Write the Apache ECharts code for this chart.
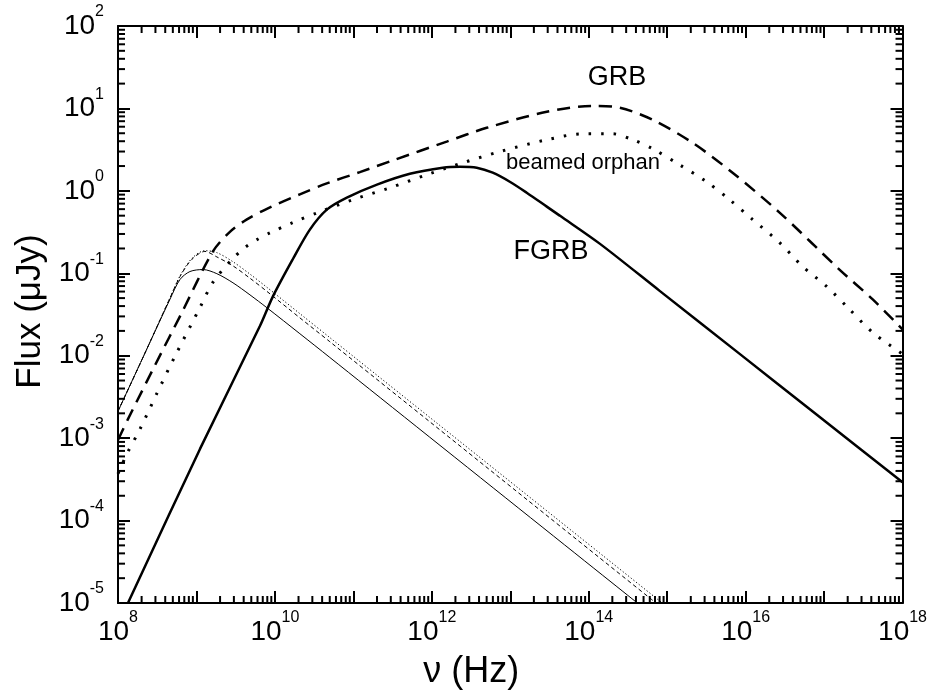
<!DOCTYPE html>
<html><head><meta charset="utf-8">
<script src="https://cdn.jsdelivr.net/npm/echarts@6/dist/echarts.min.js"></script>
<style>html,body{margin:0;padding:0;background:#fff}#c{width:930px;height:696px}</style>
</head><body><div id="c"></div><script>
// ---- data (frequency in Hz, flux in microJy) ----
const fgrbNu   = [1.34e8, 1.11e9, 6.44e9, 9.44e9, 1.69e10, 2.79e10, 4.59e10, 8.26e10, 2.0e11, 5.25e11, 1.38e12, 2.28e12, 3.74e12, 5.98e12, 9.86e12, 1.62e13, 2.92e13, 4.27e13, 1.38e14, 8.02e14, 8.32e15, 7.94e16, 1e18];
const fgrbFlux = [1.0e-5, 7.4e-4, 2.29e-2, 5.25e-2, 0.148, 0.339, 0.592, 0.828, 1.19, 1.61, 1.91, 1.96, 1.91, 1.66, 1.29, 0.95, 0.644, 0.501, 0.229, 0.0612, 1.06e-2, 1.95e-3, 2.92e-4];

const grbNu   = [1e8, 1.34e8, 2.95e8, 6.53e8, 1.62e9, 2.67e9, 4.40e9, 7.91e9, 2.08e10, 4.59e10, 1.21e11, 3.18e11, 1.55e12, 5.01e12, 2.92e13, 1.12e14, 2.48e14, 6.53e14, 2.11e15, 6.82e15, 2.71e16, 1.57e17, 4.17e17, 1e18];
const grbFlux = [9.5e-4, 1.70e-3, 7.6e-3, 3.35e-2, 0.184, 0.318, 0.451, 0.605, 0.908, 1.23, 1.69, 2.34, 3.96, 5.82, 9.1, 10.7, 10.2, 7.28, 3.83, 1.66, 0.545, 0.111, 0.0482, 0.0209];

const orphanNu   = [1e8, 1.30e8, 1.91e8, 3.14e8, 5.32e8, 1.11e9, 1.62e9, 2.83e9, 4.15e9, 5.90e9, 8.63e9, 1.69e10, 3.53e10, 9.86e10, 2.92e11, 8.63e11, 2.48e12, 7.35e12, 2.92e13, 8.39e13, 2.02e14, 3.64e14, 6.53e14, 1.44e15, 3.18e15, 6.25e15, 1.23e16, 2.71e16, 5.32e16, 1.08e17, 2.11e17, 4.15e17, 1e18];
const orphanFlux = [3.7e-4, 6.46e-4, 1.29e-3, 3.51e-3, 9.84e-3, 3.85e-2, 7.76e-2, 0.147, 0.205, 0.256, 0.309, 0.412, 0.545, 0.782, 1.09, 1.57, 2.19, 2.99, 4.17, 4.92, 4.92, 4.17, 3.24, 2.07, 1.29, 0.782, 0.448, 0.236, 0.121, 6.92e-2, 3.65e-2, 1.92e-2, 1.05e-2];

const thinSolidNu   = [1e8, 2.14e8, 4.59e8, 6.17e8, 8.26e8, 1.21e9, 1.82e9, 2.92e9, 4.81e9, 7.91e9, 2.08e10, 5.01e10, 4.17e14];
const thinSolidFlux = [2.12e-3, 1.01e-2, 4.82e-2, 8.41e-2, 0.105, 0.111, 9.89e-2, 7.67e-2, 5.47e-2, 3.82e-2, 1.85e-2, 9.53e-3, 1.0e-5];

const thinDashNu   = [1e8, 2.14e8, 4.59e8, 6.17e8, 8.77e8, 1.28e9, 1.82e9, 2.92e9, 4.81e9, 7.91e9, 2.08e10, 5.01e10, 7.2e14];
const thinDashFlux = [2.12e-3, 1.01e-2, 5.0e-2, 9.12e-2, 0.148, 0.184, 0.158, 0.123, 8.71e-2, 6.03e-2, 2.88e-2, 1.48e-2, 1.0e-5];

const thinDotNu   = [1e8, 2.14e8, 4.59e8, 6.17e8, 8.77e8, 1.28e9, 1.82e9, 2.92e9, 4.81e9, 7.91e9, 2.08e10, 5.01e10, 8.65e14];
const thinDotFlux = [2.12e-3, 1.01e-2, 5.0e-2, 9.3e-2, 0.152, 0.188, 0.178, 0.138, 9.77e-2, 6.76e-2, 3.24e-2, 1.66e-2, 1.0e-5];

const xDecades = [8, 9, 10, 11, 12, 13, 14, 15, 16, 17];   // decades carrying minor ticks
const yDecades = [-5, -4, -3, -2, -1, 0, 1];
const minorMult = [2, 3, 4, 5, 6, 7, 8, 9];
const xMin = 1e8, xMax = 1e18, yMin = 1e-5, yMax = 1e2;

const curveLabels = [
  {text: 'GRB', size: 27},
  {text: 'beamed orphan', size: 22},
  {text: 'FGRB', size: 27}
];

// ---- chart ----
const FONT = '"Liberation Sans", Arial, Helvetica, sans-serif';
const chart = echarts.init(document.getElementById('c'), null, {renderer: 'canvas'});
function zip(a, b) { return a.map((v, i) => [v, b[i]]); }
function expOf(v) { return Math.round(Math.log10(v)); }
const rich = {
  b: {fontSize: 28, lineHeight: 44, fontFamily: FONT, color: '#000'},
  s: {fontSize: 16, lineHeight: 16, verticalAlign: 'top', fontFamily: FONT, color: '#000'}
};
function xLab(v) {
  const e = expOf(v);
  if (Math.abs(Math.log10(v) - e) > 1e-6 || e % 2 !== 0) return '';
  return '{b|10}{s|' + e + '}';
}
function yLab(v) {
  const e = expOf(v);
  if (Math.abs(Math.log10(v) - e) > 1e-6) return '';
  return '{b|10}{s|' + e + '}';
}
const xMinor = [], yMinor = [];
xDecades.forEach(n => minorMult.forEach(k => xMinor.push([k * Math.pow(10, n), yMin])));
yDecades.forEach(n => minorMult.forEach(k => yMinor.push([xMin, k * Math.pow(10, n)])));

const axLine = {lineStyle: {color: '#000', width: 2}};
const axTick = {inside: true, length: 12, lineStyle: {color: '#000', width: 2}};

function lineSeries(nu, fl, width, dash, z) {
  return {
    type: 'line', data: zip(nu, fl), showSymbol: false, smooth: 0.3, z: z,
    xAxisIndex: 0, yAxisIndex: 0, silent: true, animation: false,
    lineStyle: {color: '#000', width: width, type: dash, cap: 'butt'}
  };
}
function tickSeries(data, horizontal) {
  return {
    type: 'custom', data: data, xAxisIndex: 0, yAxisIndex: 0, clip: false, silent: true, z: 5,
    renderItem: function (params, api) {
      const p = api.coord([api.value(0), api.value(1)]);
      const cs = params.coordSys;
      const L = 7, st = {stroke: '#000', lineWidth: 2};
      if (!horizontal) {
        const yb = cs.y + cs.height, yt = cs.y;
        return {type: 'group', children: [
          {type: 'line', shape: {x1: p[0], y1: yb, x2: p[0], y2: yb - L}, style: st},
          {type: 'line', shape: {x1: p[0], y1: yt, x2: p[0], y2: yt + L}, style: st}
        ]};
      }
      const xl = cs.x, xr = cs.x + cs.width;
      return {type: 'group', children: [
        {type: 'line', shape: {x1: xl, y1: p[1], x2: xl + L, y2: p[1]}, style: st},
        {type: 'line', shape: {x1: xr, y1: p[1], x2: xr - L, y2: p[1]}, style: st}
      ]};
    }
  };
}
function annot(i, x, y) {
  return {type: 'text', x: x, y: y, z: 10,
    style: {text: curveLabels[i].text, font: curveLabels[i].size + 'px ' + FONT, fill: '#000', align: 'center', verticalAlign: 'middle'}};
}

chart.setOption({
  animation: false,
  backgroundColor: '#fff',
  grid: {left: 118, right: 27, top: 26, bottom: 93, containLabel: false},
  xAxis: [
    {type: 'log', logBase: 10, min: xMin, max: xMax, splitNumber: 10, interval: 1,
     name: 'ν (Hz)', nameLocation: 'middle', nameGap: 51,
     nameTextStyle: {fontSize: 36, fontFamily: FONT, color: '#000', padding: [0, 78, 0, 0]},
     axisLine: axLine, axisTick: axTick, splitLine: {show: false}, minorTick: {show: false},
     axisLabel: {margin: 7, formatter: xLab, rich: rich, showMinLabel: true, showMaxLabel: true, hideOverlap: false}},
    {type: 'log', logBase: 10, min: xMin, max: xMax, splitNumber: 10, interval: 1, position: 'top',
     axisLine: axLine, axisTick: axTick, splitLine: {show: false}, axisLabel: {show: false}}
  ],
  yAxis: [
    {type: 'log', logBase: 10, min: yMin, max: yMax, splitNumber: 7, interval: 1,
     name: 'Flux (μJy)', nameLocation: 'middle', nameGap: 62,
     nameTextStyle: {fontSize: 35, fontFamily: FONT, color: '#000', padding: [0, 0, 0, 6]},
     axisLine: axLine, axisTick: axTick, splitLine: {show: false},
     axisLabel: {margin: 14, formatter: yLab, rich: rich, showMinLabel: true, showMaxLabel: true, hideOverlap: false}},
    {type: 'log', logBase: 10, min: yMin, max: yMax, splitNumber: 7, interval: 1, position: 'right',
     axisLine: axLine, axisTick: axTick, splitLine: {show: false}, axisLabel: {show: false}}
  ],
  series: [
    lineSeries(thinSolidNu, thinSolidFlux, 1, 'solid', 2),
    lineSeries(thinDashNu, thinDashFlux, 1, [4, 3], 2),
    lineSeries(thinDotNu, thinDotFlux, 1, [1.2, 2.2], 2),
    lineSeries(orphanNu, orphanFlux, 3, [2.5, 10], 3),
    lineSeries(grbNu, grbFlux, 2.5, [13, 8], 3),
    lineSeries(fgrbNu, fgrbFlux, 2.5, 'solid', 4),
    tickSeries(xMinor, false),
    tickSeries(yMinor, true)
  ],
  graphic: [
    annot(0, 617, 78),
    annot(1, 583, 163),
    annot(2, 551, 252)
  ]
});
</script></body></html>
